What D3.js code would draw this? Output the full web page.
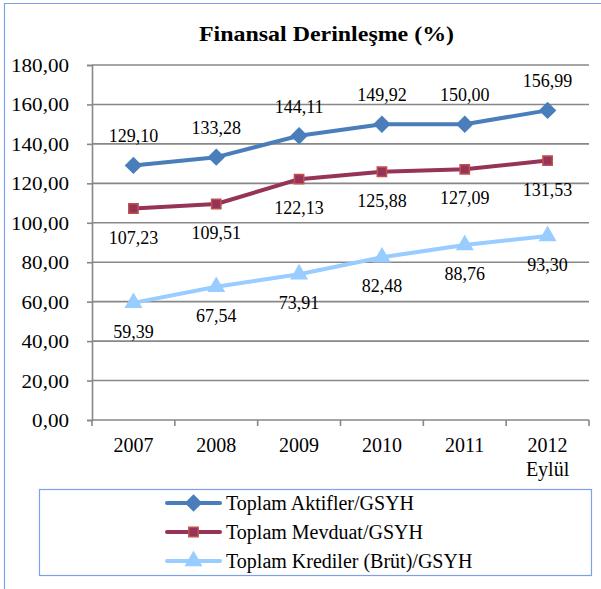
<!DOCTYPE html>
<html>
<head>
<meta charset="utf-8">
<script src="https://cdn.jsdelivr.net/npm/d3@7"></script>
<style>
  html, body { margin: 0; padding: 0; background: #fff; }
  svg { display: block; }
  text { font-family: "Liberation Serif", "Times New Roman", serif; fill: #000; }
</style>
</head>
<body>
<svg id="chart" width="601" height="589"></svg>
<script>
// Financial deepening ratios (% of GDP), 2007 – September 2012
const years = ["2007", "2008", "2009", "2010", "2011", "2012"];
const yearSub = ["", "", "", "", "", "Eylül"];
const seriesNames = ["Toplam Aktifler/GSYH", "Toplam Mevduat/GSYH", "Toplam Krediler (Brüt)/GSYH"];
const aktifler = [129.10, 133.28, 144.11, 149.92, 150.00, 156.99];
const mevduat = [107.23, 109.51, 122.13, 125.88, 127.09, 131.53];
const krediler = [59.39, 67.54, 73.91, 82.48, 88.76, 93.30];
const yTicks = [0, 20, 40, 60, 80, 100, 120, 140, 160, 180];
const title = "Finansal Derinleşme (%)";

const fmt = v => v.toFixed(2).replace(".", ",");

const series = [
  { name: seriesNames[0], values: aktifler, line: "#4A7EBB", fill: "#4A7EBB", stroke: "#4A7EBB", shape: d3.symbolDiamond2, size: 150, labelPos: "above" },
  { name: seriesNames[1], values: mevduat, line: "#953458", fill: "#953458", stroke: "#C0504D", shape: d3.symbolSquare2, size: 110, labelPos: "below" },
  { name: seriesNames[2], values: krediler, line: "#99CCFF", fill: "#99CCFF", stroke: "#99CCFF", shape: d3.symbolTriangle2, size: 170, labelPos: "below" }
];

// widen text horizontally around its anchor point
function stretch(sel, sx) {
  sel.each(function () {
    const t = d3.select(this);
    const tx = +t.attr("x") || 0, ty = +t.attr("y") || 0;
    t.attr("x", 0).attr("y", 0)
     .attr("transform", `translate(${tx},${ty}) scale(${sx},1)`);
  });
}

const svg = d3.select("#chart");

// outer chart frame
svg.append("path")
  .attr("d", "M4.5,589 L4.5,3.5 L601,3.5")
  .attr("fill", "none")
  .attr("stroke", "#7F9FE8")
  .attr("stroke-width", 1.2);

const plot = { left: 92, right: 589, top: 65, bottom: 420 };

const x = d3.scaleBand().domain(years).range([plot.left, plot.right]).padding(0);
const y = d3.scaleLinear().domain([0, 180]).range([plot.bottom, plot.top]);
const cx = d => x(d) + x.bandwidth() / 2;

// title
svg.append("text")
  .attr("x", 326.5).attr("y", 41)
  .attr("text-anchor", "middle")
  .style("font-size", "21px").style("font-weight", "bold")
  .text(title)
  .call(stretch, 1.14);

// horizontal gridlines
svg.append("g").selectAll("line")
  .data(yTicks.filter(t => t > 0))
  .join("line")
  .attr("x1", plot.left).attr("x2", plot.right)
  .attr("y1", d => y(d)).attr("y2", d => y(d))
  .attr("stroke", "#878787").attr("stroke-width", 1.6);

// y axis
const yAxis = svg.append("g")
  .attr("transform", `translate(${plot.left},0)`)
  .call(d3.axisLeft(y).tickValues(yTicks).tickFormat(fmt).tickSize(5).tickPadding(18));
yAxis.select(".domain").attr("stroke", "#878787").attr("stroke-width", 1.6);
yAxis.selectAll(".tick line").attr("stroke", "#878787").attr("stroke-width", 1.6);
yAxis.selectAll(".tick text")
  .style("font-family", "'Liberation Serif', 'Times New Roman', serif")
  .style("font-size", "19px").attr("fill", "#000")
  .call(stretch, 1.11);
yAxis.selectAll(".tick text").attr("dy", "0.34em");

// x axis: ticks sit on category boundaries
const xAxisG = svg.append("g").attr("transform", `translate(0,${plot.bottom})`);
xAxisG.append("line")
  .attr("x1", plot.left).attr("x2", plot.right)
  .attr("stroke", "#878787").attr("stroke-width", 1.6);
const bounds = years.map(d => x(d)).concat([x(years[years.length - 1]) + x.bandwidth()]);
xAxisG.selectAll("line.tk").data(bounds).join("line").attr("class", "tk")
  .attr("x1", d => d).attr("x2", d => d).attr("y1", 0).attr("y2", 6)
  .attr("stroke", "#878787").attr("stroke-width", 1.6);
const xl = xAxisG.selectAll("text.yr").data(years).join("text").attr("class", "yr")
  .attr("x", d => cx(d)).attr("y", 32)
  .attr("text-anchor", "middle").style("font-size", "20px");
xl.append("tspan").attr("x", d => cx(d)).text(d => d);
xl.append("tspan").attr("x", d => cx(d)).attr("dy", 24).text((d, i) => yearSub[i]);

// lines
const lineGen = d3.line().x((v, i) => cx(years[i])).y(v => y(v));
svg.append("g").selectAll("path")
  .data(series).join("path")
  .attr("d", s => lineGen(s.values))
  .attr("fill", "none")
  .attr("stroke", s => s.line).attr("stroke-width", 4)
  .attr("stroke-linejoin", "round").attr("stroke-linecap", "round");

// markers
series.forEach(s => {
  svg.append("g").selectAll("path")
    .data(s.values).join("path")
    .attr("transform", (v, i) => `translate(${cx(years[i])},${y(v)})`)
    .attr("d", d3.symbol().type(s.shape).size(s.size))
    .attr("fill", s.fill).attr("stroke", s.stroke).attr("stroke-width", 1.5);
});

// data labels
series.forEach(s => {
  svg.append("g").selectAll("text")
    .data(s.values).join("text")
    .attr("x", (v, i) => cx(years[i]))
    .attr("y", v => s.labelPos === "above" ? y(v) - 23 : y(v) + 35)
    .attr("text-anchor", "middle").style("font-size", "18px")
    .text(fmt);
});

// legend
const legend = svg.append("g");
legend.append("rect")
  .attr("x", 39.5).attr("y", 489.5).attr("width", 552).attr("height", 86)
  .attr("fill", "#fff").attr("stroke", "#7F9FE8").attr("stroke-width", 1.2);
const rows = legend.selectAll("g.row").data(series).join("g").attr("class", "row")
  .attr("transform", (s, i) => `translate(0,${503 + i * 29})`);
rows.append("line")
  .attr("x1", 167).attr("x2", 220)
  .attr("stroke", s => s.line).attr("stroke-width", 4).attr("stroke-linecap", "round");
rows.append("path")
  .attr("transform", "translate(193.5,0)")
  .attr("d", s => d3.symbol().type(s.shape).size(s.size)())
  .attr("fill", s => s.fill).attr("stroke", s => s.stroke).attr("stroke-width", 1.5);
rows.append("text")
  .attr("x", 226).attr("y", 7)
  .style("font-size", "20px")
  .text(s => s.name);
</script>
</body>
</html>
